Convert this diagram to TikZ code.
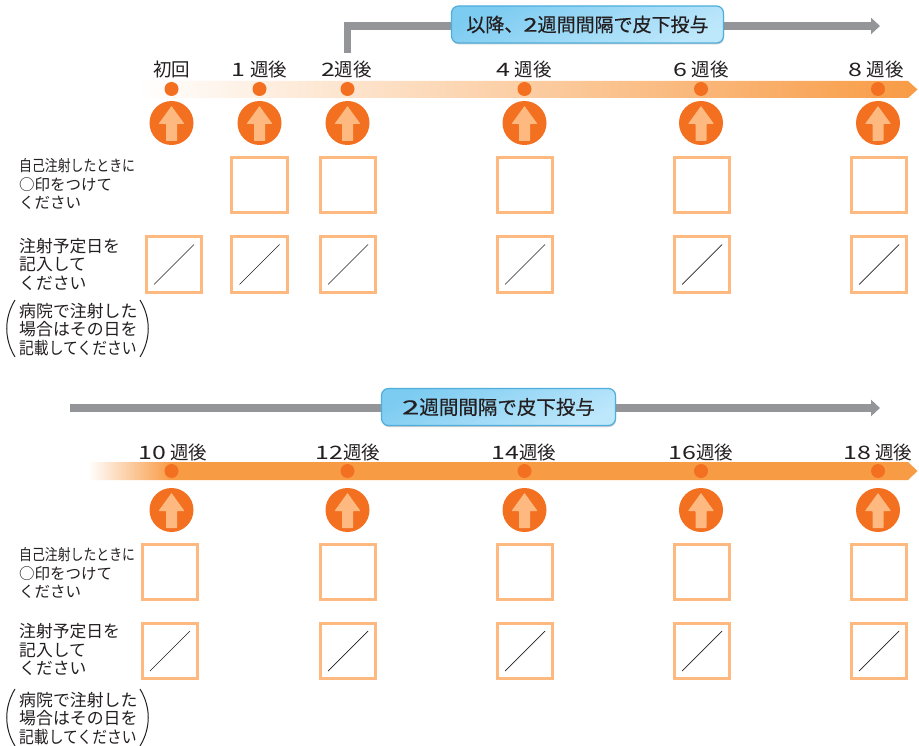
\documentclass[tikz,border=0pt]{standalone}
\usepackage{fontspec}
\setmainfont{Noto Sans CJK JP}
\newfontfamily\barfont[FakeBold=0.4]{Noto Sans CJK JP}
\usetikzlibrary{arrows.meta,calc,shadows}
\definecolor{bandor}{HTML}{F89B45}
\definecolor{dotor}{HTML}{F37021}
\definecolor{lightor}{HTML}{FDB97F}
\definecolor{grayline}{HTML}{939598}
\definecolor{ink}{HTML}{231F20}
\definecolor{bluetop}{HTML}{7CCBF1}
\definecolor{bluebot}{HTML}{BDE7FB}
\definecolor{blueedge}{HTML}{4FAFDC}
\pgfdeclarehorizontalshading{lowband}{100bp}{color(0bp)=(white); color(25bp)=(white); color(30bp)=(bandor); color(100bp)=(bandor)}
\newcommand{\dg}[1]{\scalebox{1.35}[1]{#1}}
\tikzset{
  x=1pt,y=-1pt,
  every node/.style={text=ink},
  weeklabel/.style={font=\fontsize{18.5}{20}\selectfont,inner sep=0pt,text height=14pt,text depth=3pt},
  dotmark/.style={circle,fill=dotor,minimum size=14pt,inner sep=0pt},
  roundmark/.style={circle,fill=dotor,minimum size=44pt,inner sep=0pt},
  checkbox/.style={rectangle,draw=lightor,line width=3pt,fill=white,minimum size=55.5pt,inner sep=0pt},
  slashline/.style={ink,line width=0.7pt},
  grayarrow/.style={grayline,line width=7.5pt},
  bluebox/.style={rectangle,rounded corners=7pt,draw=blueedge,line width=1.2pt,top color=bluetop,bottom color=bluebot,shading angle=25,inner sep=0pt,drop shadow={shadow xshift=0.5pt,shadow yshift=-1.5pt,opacity=0.4}},
  hinttext/.style={anchor=west,inner sep=0pt,text height=12pt,text depth=3pt},
  parenline/.style={ink,line width=1pt},
}
\newcommand{\uparrowmark}[3]{%
  \node[roundmark] (#1) at (#2,#3) {};
  \fill[lightor,rounded corners=0.6pt,shift={(#2,#3)}] (0,-17) -- (13,1) -- (5.5,1) -- (5.5,18) -- (-5.5,18) -- (-5.5,1) -- (-13,1) -- cycle;
}
\newcommand{\slashbox}[3]{%
  \node[checkbox] (#1) at (#2,#3) {};
  \draw[slashline] ($(#1.center)+(-20,20)$) -- ($(#1.center)+(20,-20)$);
}
% #1 = name prefix, #2,#3,#4 = vertical offsets of the three text groups
\newcommand{\hints}[4]{%
  \node[hinttext,font=\fontsize{15.5}{16}\selectfont] (#1a1) at (19,{167.5+#2}) {\scalebox{0.83}[1]{自己注射したときに}};
  \node[hinttext,font=\fontsize{15.5}{16}\selectfont] (#1a2) at (19,{186.5+#2}) {○印をつけて};
  \node[hinttext,font=\fontsize{15.5}{16}\selectfont] (#1a3) at (19,{204.5+#2}) {ください};
  \node[hinttext,font=\fontsize{16.8}{17}\selectfont] (#1b1) at (19,{248+#2+#3}) {注射予定日を};
  \node[hinttext,font=\fontsize{16.8}{17}\selectfont] (#1b2) at (19,{266.5+#2+#3}) {記入して};
  \node[hinttext,font=\fontsize{16.8}{17}\selectfont] (#1b3) at (19,{285+#2+#3}) {ください};
  \node[hinttext,font=\fontsize{16.9}{17}\selectfont] (#1c1) at (19,{313+#2+#4}) {病院で注射した};
  \node[hinttext,font=\fontsize{16.9}{17}\selectfont] (#1c2) at (19,{331+#2+#4}) {場合はその日を};
  \node[hinttext,font=\fontsize{16.9}{17}\selectfont] (#1c3) at (19,{350+#2+#4}) {\scalebox{0.875}[1]{記載してください}};
  \draw[parenline] (15,{300+#2+#4}) .. controls (4,{318+#2+#4}) and (4,{339+#2+#4}) .. (15,{357+#2+#4});
  \draw[parenline] (140,{300+#2+#4}) .. controls (151,{318+#2+#4}) and (151,{339+#2+#4}) .. (140,{357+#2+#4});
}
\begin{document}
\begin{tikzpicture}
\useasboundingbox[fill=white] (0,0) rectangle (919,746);

% ---------- upper block ----------
\shade[left color=white,right color=bandor] (138,81) -- (908,81) -- (917.5,89.5) -- (908,98) -- (138,98) -- cycle;

\coordinate (topstart) at (347.5,53);
\coordinate (topend) at (880,26);
\coordinate (topbarw) at (460,26);
\coordinate (topbare) at (715,26);
\draw[grayarrow] (topstart) |- (topbarw);
\draw[grayarrow,-{Triangle[length=9pt,width=16pt]}] (topbare) -- (topend);
\node[bluebox,minimum width=272pt,minimum height=37pt,font=\barfont\fontsize{19}{22}\selectfont] (topbar) at (587.5,24.5) {以降、\dg{2}週間間隔で皮下投与};

\node[weeklabel] (w0) at (171.5,71.5) {初回};
\node[weeklabel] (w1) at (259.5,71.5) {\dg{1} 週後};
\node[weeklabel] (w2) at (346.5,71.5) {\dg{2}週後};
\node[weeklabel] (w4) at (524,71.5) {\dg{4} 週後};
\node[weeklabel] (w6) at (701,71.5) {\dg{6} 週後};
\node[weeklabel] (w8) at (876,71.5) {\dg{8} 週後};

\foreach \n/\x in {0/171.5,1/259.5,2/347.5,4/524.5,6/701,8/878}{
  \node[dotmark] (d\n) at (\x,89) {};
  \uparrowmark{c\n}{\x}{123}
}
\foreach \n/\x in {1/259.5,2/348,4/525,6/702,8/879}{
  \node[checkbox] (p\n) at (\x,185) {};
}
\slashbox{q0}{174}{264.5}
\foreach \n/\x in {1/259.5,2/348,4/525,6/702,8/879}{
  \slashbox{q\n}{\x}{264.5}
}
\hints{u}{0}{0}{0}

% ---------- lower block ----------
\shade[shading=lowband] (88,462) -- (908,462) -- (917.5,471) -- (908,480) -- (88,480) -- cycle;

\coordinate (lowstart) at (70,408);
\coordinate (lowend) at (880,408);
\coordinate (lowbarw) at (390,408);
\coordinate (lowbare) at (607,408);
\draw[grayarrow] (lowstart) -- (lowbarw);
\draw[grayarrow,-{Triangle[length=9pt,width=16pt]}] (lowbare) -- (lowend);
\node[bluebox,minimum width=234pt,minimum height=37pt,font=\barfont\fontsize{19.5}{22}\selectfont] (lowbar) at (498.5,407) {\scalebox{1.6}[1]{2}週間間隔で皮下投与};

\node[weeklabel] (w10) at (173,453.5) {\dg{1}\dg{0} 週後};
\node[weeklabel] (w12) at (348,453.5) {\dg{1}\dg{2}週後};
\node[weeklabel] (w14) at (524,453.5) {\dg{1}\dg{4}週後};
\node[weeklabel] (w16) at (701,453.5) {\dg{1}\dg{6}週後};
\node[weeklabel] (w18) at (878,453.5) {\dg{1}\dg{8} 週後};

\foreach \n/\x in {10/171.5,12/347.5,14/524.5,16/701,18/878}{
  \node[dotmark] (d\n) at (\x,471) {};
  \uparrowmark{c\n}{\x}{510}
}
\foreach \n/\x in {10/170,12/348,14/525,16/702,18/879}{
  \node[checkbox] (p\n) at (\x,572) {};
  \slashbox{q\n}{\x}{651}
}
\hints{l}{388}{-3}{1}
\end{tikzpicture}
\end{document}
